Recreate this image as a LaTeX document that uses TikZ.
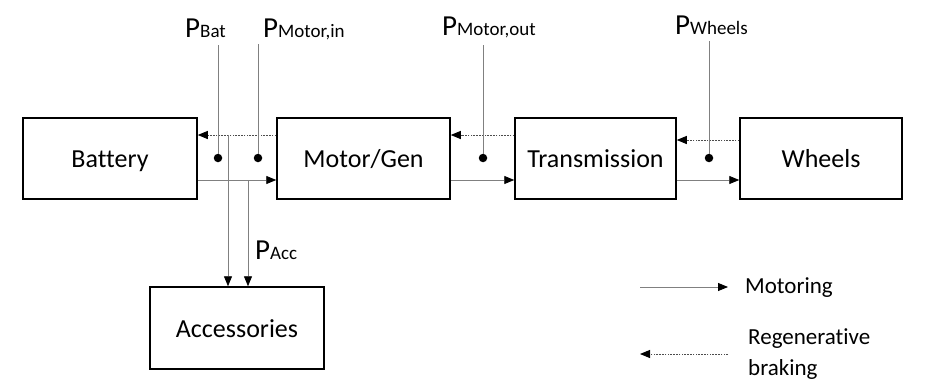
\documentclass[tikz,border=0pt]{standalone}
\usepackage{fontspec}
\setmainfont[Ligatures=CommonOff]{Carlito}
\usetikzlibrary{arrows.meta}
\tikzset{
  box/.style={draw=black, line width=1.5pt, inner sep=0pt, minimum height=81pt, text height=18pt, text depth=0pt, font=\fontsize{26}{31}\selectfont},
  flow/.style={draw=black!50, line width=0.9pt, -{Triangle[length=10pt,width=8pt,color=black,fill=black]}},
  regen/.style={draw=black!70, line width=0.9pt, dash pattern=on 1.6pt off 1.2pt, -{Triangle[length=10pt,width=8pt,color=black,fill=black]}},
  pline/.style={draw=black!50, line width=0.8pt},
  dot/.style={circle, fill=black, inner sep=0pt, minimum size=8.5pt},
  plabel/.style={inner sep=0pt, anchor=base west},
  legtext/.style={inner sep=0pt, anchor=base west, font=\fontsize{23}{31}\selectfont, align=left}
}
\newcommand{\plab}[1]{{\fontsize{29}{29}\selectfont P}{\fontsize{19}{19}\selectfont #1}}
\begin{document}
\begin{tikzpicture}[x=1pt,y=-1pt]
\useasboundingbox (0,0) rectangle (931,380);
% boxes
\node[box, minimum width=174pt] (bat) at (110,158.5) {Battery};
\node[box, minimum width=173pt] (mg) at (363.5,158.5) {Motor/Gen};
\node[box, minimum width=161pt] (tr) at (595.5,158.5) {Transmission};
\node[box, minimum width=162pt] (wh) at (821,158.5) {Wheels};
\node[box, minimum width=174pt, minimum height=82pt] (acc) at (237,328) {Accessories};
% helper coordinates
\coordinate (ylo) at (0,180);
\coordinate (yhi) at (0,135);
\coordinate (yhw) at (0,140);
\coordinate (xa) at (228,0);
\coordinate (xb) at (248,0);
% motoring flow
\draw[flow] (bat.east |- ylo) -- (mg.west |- ylo);
\draw[flow] (mg.east |- ylo) -- (tr.west |- ylo);
\draw[flow] (tr.east |- ylo) -- (wh.west |- ylo);
% regenerative flow
\draw[regen] (mg.west |- yhi) -- (bat.east |- yhi);
\draw[regen] (tr.west |- yhi) -- (mg.east |- yhi);
\draw[regen] (wh.west |- yhw) -- (tr.east |- yhw);
% accessories feeds
\draw[flow] (xa |- yhi) -- (acc.north -| xa);
\draw[flow] (xb |- ylo) -- (acc.north -| xb);
% measuring points
\node[dot] (d1) at (218,158) {};
\node[dot] (d2) at (258,158) {};
\node[dot] (d3) at (483,158) {};
\node[dot] (d4) at (709,158) {};
% labels
\node[plabel] (lbat) at (185,37) {\plab{Bat}};
\node[plabel] (lmin) at (263,37) {\plab{Motor,in}};
\node[plabel] (lmout) at (442,35) {\plab{Motor,out}};
\node[plabel] (lwh) at (675,34) {\plab{Wheels}};
\node[plabel] (lacc) at (255,259) {\plab{Acc}};
\draw[pline] ([yshift=-8pt]lbat.base -| d1) -- (d1);
\draw[pline] ([yshift=-7pt]lmin.base -| d2) -- (d2);
\draw[pline] ([yshift=-10pt]lmout.base -| d3) -- (d3);
\draw[pline] ([yshift=-7pt]lwh.base -| d4) -- (d4);
% legend
\coordinate (m1) at (640,287);
\coordinate (m2) at (728,287);
\coordinate (r1) at (728,354);
\coordinate (r2) at (640,354);
\draw[flow] (m1) -- (m2);
\draw[regen] (r1) -- (r2);
\node[legtext] (tmot) at (745,293) {Motoring};
\node[legtext] (treg) at (748,375) {Regenerative\\braking};
\end{tikzpicture}
\end{document}
